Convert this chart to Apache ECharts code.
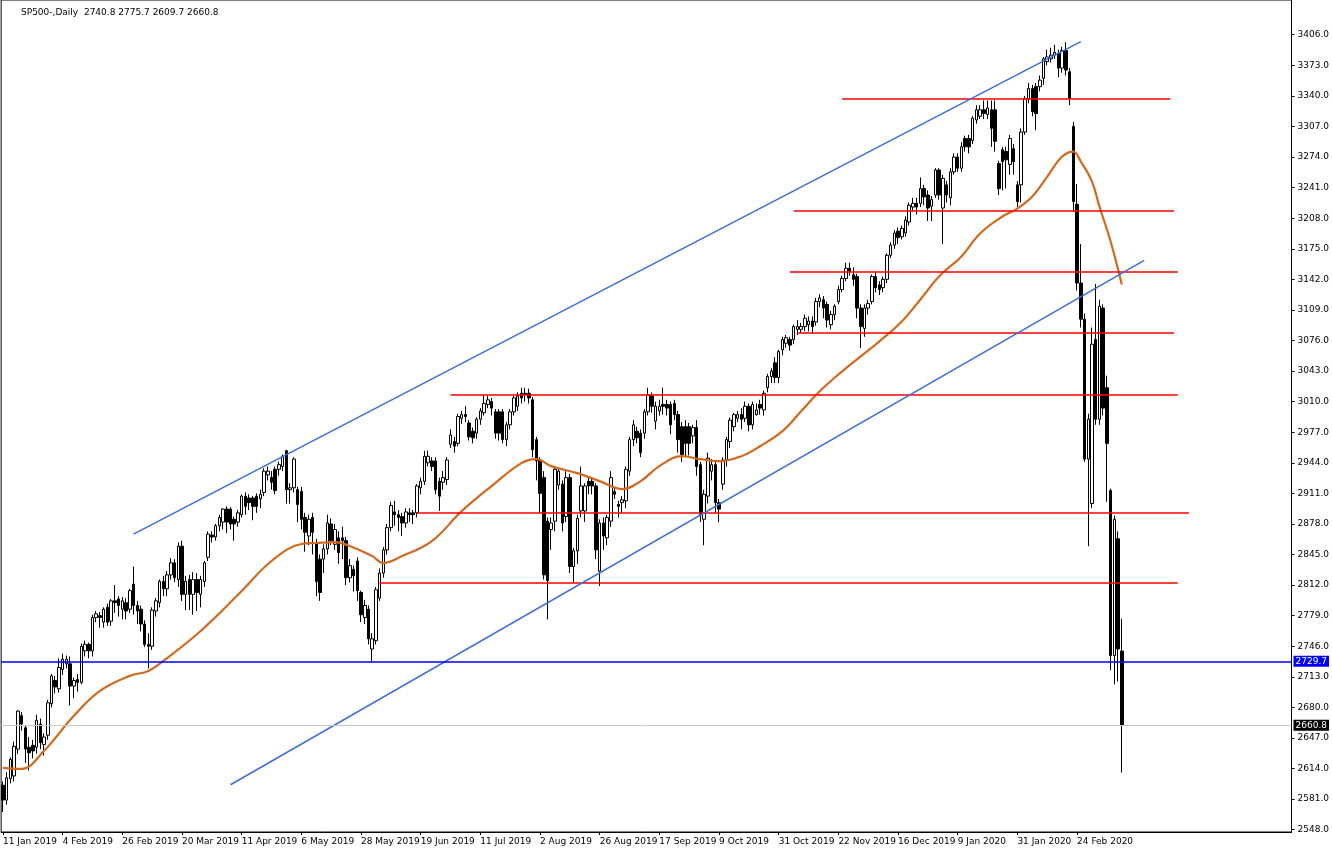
<!DOCTYPE html>
<html><head><meta charset="utf-8">
<script src="https://cdn.jsdelivr.net/npm/echarts@6/dist/echarts.min.js"></script>
<style>html,body{margin:0;padding:0;background:#fff}#c{width:1332px;height:853px}</style>
</head><body><div id="c"></div>
<script>
const title = 'SP500-,Daily  2740.8 2775.7 2609.7 2660.8';
const dateLabels = ['11 Jan 2019','4 Feb 2019','26 Feb 2019','20 Mar 2019','11 Apr 2019','6 May 2019','28 May 2019','19 Jun 2019','11 Jul 2019','2 Aug 2019','26 Aug 2019','17 Sep 2019','9 Oct 2019','31 Oct 2019','22 Nov 2019','16 Dec 2019','9 Jan 2020','31 Jan 2020','24 Feb 2020'];
const priceTicks = [2548,2581,2614,2647,2680,2713,2746,2779,2812,2845,2878,2911,2944,2977,3010,3043,3076,3109,3142,3175,3208,3241,3274,3307,3340,3373,3406];
// [open, close, low, high]
const candles = [
[2596,2580,2567,2600],[2580,2604,2575,2610],[2603,2624,2598,2626],[2606,2638,2600,2643],[2635,2676,2630,2677],
[2671,2662,2655,2675],[2658,2635,2620,2660],[2637,2631,2612,2648],[2639,2633,2625,2645],[2637,2666,2630,2672],
[2662,2642,2635,2668],[2640,2648,2628,2652],[2650,2685,2645,2688],[2684,2714,2680,2716],[2709,2702,2695,2714],
[2700,2723,2696,2733],[2721,2732,2715,2738],[2727,2732,2722,2736],[2727,2703,2682,2735],[2703,2709,2690,2712],
[2710,2707,2697,2716],[2707,2746,2705,2749],[2741,2748,2735,2752],[2748,2741,2733,2750],[2741,2777,2735,2780],
[2777,2781,2772,2784],[2779,2777,2766,2783],[2772,2786,2766,2788],[2788,2772,2768,2792],[2773,2795,2768,2797],
[2795,2793,2782,2812],[2797,2790,2778,2800],[2786,2795,2775,2799],[2793,2784,2775,2798],[2786,2806,2782,2808],
[2813,2790,2780,2832],[2790,2784,2770,2795],[2786,2770,2762,2790],[2770,2748,2745,2774],[2748,2746,2722,2760],
[2746,2785,2742,2788],[2784,2795,2778,2798],[2793,2816,2788,2818],[2816,2808,2800,2822],[2808,2823,2800,2827],
[2823,2836,2818,2841],[2836,2820,2815,2840],[2818,2854,2810,2858],[2854,2802,2795,2860],[2802,2816,2785,2822],
[2818,2802,2785,2823],[2802,2818,2780,2826],[2818,2804,2784,2825],[2802,2818,2788,2822],[2816,2836,2810,2838],
[2842,2867,2838,2870],[2866,2864,2858,2870],[2864,2876,2860,2878],[2876,2885,2870,2888],[2880,2894,2872,2895],
[2894,2880,2868,2897],[2894,2878,2872,2896],[2883,2878,2860,2886],[2880,2890,2875,2893],[2888,2908,2885,2910],
[2908,2897,2888,2912],[2906,2901,2893,2910],[2906,2897,2882,2908],[2908,2897,2890,2911],[2905,2910,2895,2915],
[2912,2935,2908,2938],[2931,2935,2925,2940],[2928,2923,2915,2935],[2937,2914,2910,2940],[2937,2942,2930,2945],
[2940,2951,2935,2953],[2957,2915,2900,2958],[2915,2917,2900,2922],[2917,2948,2912,2950],[2915,2899,2880,2918],
[2913,2883,2872,2918],[2885,2869,2848,2890],[2865,2883,2855,2888],[2885,2869,2845,2890],[2858,2816,2800,2862],
[2840,2804,2795,2845],[2840,2851,2825,2856],[2851,2879,2845,2888],[2878,2860,2855,2884],[2856,2872,2850,2878],
[2863,2847,2835,2870],[2863,2860,2840,2875],[2860,2820,2812,2864],[2820,2833,2815,2840],[2829,2822,2805,2833],
[2838,2806,2795,2842],[2804,2780,2772,2806],[2777,2790,2770,2796],[2786,2754,2748,2790],[2743,2754,2728,2760],
[2752,2807,2748,2810],[2798,2825,2795,2830],[2825,2850,2820,2853],[2850,2874,2845,2878],[2874,2898,2870,2902],
[2891,2888,2876,2903],[2888,2885,2870,2893],[2886,2879,2865,2890],[2879,2891,2874,2895],[2890,2888,2880,2895],
[2890,2888,2878,2893],[2890,2919,2885,2921],[2917,2924,2910,2928],[2924,2951,2920,2957],[2944,2951,2940,2957],
[2946,2940,2935,2950],[2946,2915,2910,2950],[2924,2908,2892,2928],[2923,2928,2915,2935],[2926,2947,2920,2950],
[2964,2974,2960,2980],[2967,2962,2955,2972],[2965,2994,2962,2997],[2992,2996,2986,3000],[2996,2994,2988,3005],
[2987,2972,2968,2990],[2978,2971,2965,2982],[2976,2991,2970,2993],[2991,3000,2985,3003],[2998,3008,2995,3017],
[3007,3012,3003,3016],[3010,3003,2995,3014],[2999,2976,2970,3002],[2999,2976,2968,3002],[2999,2969,2965,3002],
[2969,2985,2962,2988],[2985,2999,2980,3002],[2999,3014,2995,3016],[3005,3016,3000,3020],[3019,3014,3008,3025],
[3019,3018,3010,3025],[3019,3014,3008,3024],[3012,2958,2950,3015],[2969,2946,2925,2972],[2947,2911,2890,2950],
[2928,2823,2818,2935],[2881,2817,2775,2885],[2872,2879,2850,2885],[2881,2937,2870,2940],[2920,2935,2915,2938],
[2921,2879,2870,2925],[2886,2928,2880,2935],[2928,2832,2825,2932],[2832,2849,2815,2852],[2849,2884,2835,2888],
[2892,2919,2885,2940],[2892,2919,2880,2922],[2924,2919,2910,2928],[2924,2919,2910,2927],[2919,2850,2840,2922],
[2827,2879,2811,2883],[2879,2865,2850,2885],[2863,2885,2855,2888],[2881,2928,2875,2935],[2913,2910,2905,2918],
[2899,2897,2885,2903],[2901,2904,2890,2908],[2903,2937,2895,2940],[2935,2969,2930,2972],[2969,2985,2962,2990],
[2978,2971,2965,2983],[2976,2955,2950,2980],[2976,2999,2970,3002],[2999,3017,2995,3025],[3016,3005,2998,3020],
[2989,3005,2980,3010],[3000,3005,2995,3012],[3007,3005,2996,3025],[3007,3003,2995,3012],[3007,2985,2975,3010],
[3008,2996,2990,3012],[2996,2969,2955,3000],[2983,2953,2945,2988],[2983,2965,2950,2990],[2983,2965,2952,2987],
[2973,2982,2965,2985],[2982,2940,2930,2990],[2942,2888,2880,2945],[2883,2910,2855,2915],[2908,2949,2900,2955],
[2935,2942,2925,2948],[2942,2901,2890,2945],[2901,2894,2880,2905],[2921,2947,2915,2950],[2947,2969,2940,2972],
[2967,2990,2960,2993],[2983,2996,2978,2998],[2992,2996,2988,3000],[2996,2991,2980,3003],[2992,3005,2988,3010],
[3005,2985,2978,3008],[2985,3007,2980,3010],[2996,3001,2995,3008],[3007,3003,2996,3012],[3001,3019,2995,3022],
[3025,3037,3020,3040],[3037,3043,3030,3046],[3052,3036,3030,3058],[3036,3064,3030,3066],[3066,3077,3060,3080],
[3073,3079,3068,3082],[3077,3071,3065,3080],[3077,3091,3072,3093],[3088,3091,3082,3098],[3088,3091,3084,3095],
[3091,3100,3086,3104],[3093,3097,3086,3102],[3097,3091,3083,3102],[3096,3118,3092,3122],[3118,3122,3112,3126],
[3120,3111,3100,3124],[3115,3098,3090,3118],[3093,3104,3088,3108],[3104,3113,3098,3115],[3118,3131,3115,3135],
[3131,3143,3128,3146],[3143,3154,3140,3160],[3154,3151,3146,3160],[3147,3142,3135,3155],[3145,3111,3100,3148],
[3111,3091,3068,3115],[3089,3111,3080,3115],[3111,3116,3104,3120],[3118,3145,3115,3147],[3145,3133,3128,3150],
[3136,3131,3125,3140],[3133,3142,3128,3145],[3142,3168,3138,3170],[3168,3179,3165,3182],[3179,3192,3175,3195],
[3194,3187,3180,3198],[3188,3197,3185,3200],[3192,3206,3188,3210],[3204,3222,3200,3225],[3220,3224,3215,3230],
[3224,3220,3212,3230],[3224,3240,3220,3252],[3240,3231,3222,3244],[3233,3219,3205,3238],[3221,3228,3205,3232],
[3233,3260,3230,3262],[3260,3233,3228,3262],[3219,3251,3180,3255],[3244,3233,3225,3248],[3230,3258,3222,3262],
[3258,3274,3255,3278],[3274,3262,3258,3278],[3262,3285,3258,3290],[3294,3285,3280,3297],[3294,3285,3278,3298],
[3292,3316,3288,3318],[3314,3325,3310,3330],[3318,3325,3315,3330],[3325,3321,3315,3335],[3320,3327,3315,3335],
[3325,3305,3285,3335],[3325,3291,3280,3335],[3267,3240,3233,3270],[3282,3269,3238,3285],[3280,3271,3240,3285],
[3266,3294,3255,3298],[3283,3269,3255,3288],[3244,3226,3220,3248],[3244,3301,3225,3305],[3301,3337,3298,3340],
[3337,3348,3332,3354],[3348,3323,3318,3352],[3350,3321,3303,3354],[3350,3357,3345,3362],[3359,3380,3352,3382],
[3377,3382,3373,3390],[3380,3384,3376,3392],[3384,3387,3380,3395],[3386,3370,3360,3390],[3370,3389,3365,3393],
[3389,3368,3362,3398],[3366,3337,3330,3370],[3307,3226,3215,3312],[3223,3138,3130,3245],[3138,3099,3090,3180],
[3099,2948,2945,3105],[2948,2991,2854,2997],[2900,3072,2895,3090],[3077,2991,2985,3137],[2991,3113,2985,3120],
[3111,3003,2995,3115],[3025,2965,2902,3038],[2914,2736,2720,2916],[2736,2883,2705,2887],[2862,2743,2708,2870],
[2740.8,2660.8,2609.7,2775.7]
];
const maIdx = [0,5,11,19,26,34,39,43,53,64,72,80,84,89,93,99,102,107,115,123,131,139,143,147,154,160,166,171,176,182,187,192,198,203,209,214,219,225,230,235,241,246,251,257,262,268,272,276,280,284,287,289,292,294,297,300];
const maVal = [2614.8,2613.7,2633.1,2670.9,2697.8,2714.0,2719.4,2730.2,2762.5,2805.6,2838.0,2856.3,2857.4,2858.4,2854.1,2843.3,2835.8,2843.3,2859.5,2891.8,2918.8,2943.6,2947.9,2940.4,2932.8,2924.2,2915.6,2924.2,2940.4,2951.1,2947.9,2945.7,2951.1,2961.9,2978.1,2999.6,3021.2,3042.7,3058.9,3075.1,3096.6,3120.3,3145.1,3166.7,3191.5,3209.8,3218.4,3231.4,3252.9,3274.5,3279.9,3269.1,3247.5,3220.6,3182.9,3136.5];
// red horizontal levels: price, start index, end index
const redLevels = [3337,3216,3150,3084,3017,2890,2815];
const redStart = [225,212,211,213,120,111,101];
const redEnd = [313,314,315,314,315,318,315];
// trend lines: [startIdx, startPrice, endIdx, endPrice]
const upperTrend = [35,2867,289,3398.5];
const lowerTrend = [61,2596.5,306,3162.4];
const bluePrice = 2729.7;
const lastPrice = 2660.8;

const NCAT = 346;
const cats = [];
for (let i = 0; i < NCAT; i++) cats.push(i % 16 === 0 && dateLabels[i / 16] ? dateLabels[i / 16] : '');
const maData = maIdx.map((x, k) => [x, maVal[k]]);
const markData = [];
redLevels.forEach((p, k) => markData.push([{coord:[redStart[k], p], lineStyle:{color:'#ff0000', width:1.6, type:'solid'}}, {coord:[redEnd[k], p]}]));
[upperTrend, lowerTrend].forEach(t => markData.push([{coord:[t[0], t[1]], lineStyle:{color:'#3c6fd8', width:1.5, type:'solid'}}, {coord:[t[2], t[3]]}]));
markData.push({yAxis: lastPrice, lineStyle:{color:'#c8c8c8', width:1, type:'solid'},
  label:{show:true, position:'end', distance:2, formatter:lastPrice.toFixed(1), color:'#fff', backgroundColor:'#000', padding:[1,2], fontSize:9, fontFamily:'DejaVu Sans'}});
markData.push({yAxis: bluePrice, lineStyle:{color:'#0000ff', width:1.5, type:'solid'},
  label:{show:true, position:'end', distance:2, formatter:bluePrice.toFixed(1), color:'#fff', backgroundColor:'#0000ff', padding:[1,2], fontSize:9, fontFamily:'DejaVu Sans'}});

const chart = echarts.init(document.getElementById('c'));
chart.setOption({
  animation: false,
  backgroundColor: '#fff',
  title: {text: title, left: 16, top: 3, textStyle:{fontSize:9, fontWeight:'normal', color:'#000', fontFamily:'DejaVu Sans'}},
  grid: {left: 1, right: 40, top: 0, bottom: 21, show: true, borderColor: '#000', borderWidth: 1},
  xAxis: {type:'category', data: cats, boundaryGap: true,
    axisLine:{lineStyle:{color:'#000'}},
    axisTick:{show:true, alignWithLabel:true, interval:(i)=> i % 16 === 0 && i/16 < dateLabels.length, length:3, lineStyle:{color:'#000'}},
    axisLabel:{interval:0, align:'left', margin:5, fontSize:9, color:'#000', fontFamily:'DejaVu Sans', hideOverlap:false},
    splitLine:{show:false}},
  yAxis: {type:'value', position:'right', min:2545.5, max:3443.5, scale:true,
    axisLine:{show:true, lineStyle:{color:'#000'}},
    axisTick:{show:true, length:3, customValues: priceTicks, lineStyle:{color:'#000'}},
    axisLabel:{customValues: priceTicks, formatter:v=>v.toFixed(1), fontSize:9, color:'#000', fontFamily:'DejaVu Sans', margin:6},
    splitLine:{show:false}},
  series: [
    {type:'candlestick', data: candles, barWidth: 3,
     itemStyle:{color:'#ffffff', color0:'#000000', borderColor:'#000000', borderColor0:'#000000', borderWidth:1},
     markLine:{silent:true, symbol:['none','none'], animation:false, label:{show:false}, data: markData}},
    {type:'line', data: maData, smooth: 0.4, showSymbol:false, lineStyle:{color:'#d2691e', width:2.2}, z:3}
  ]
});
</script></body></html>
